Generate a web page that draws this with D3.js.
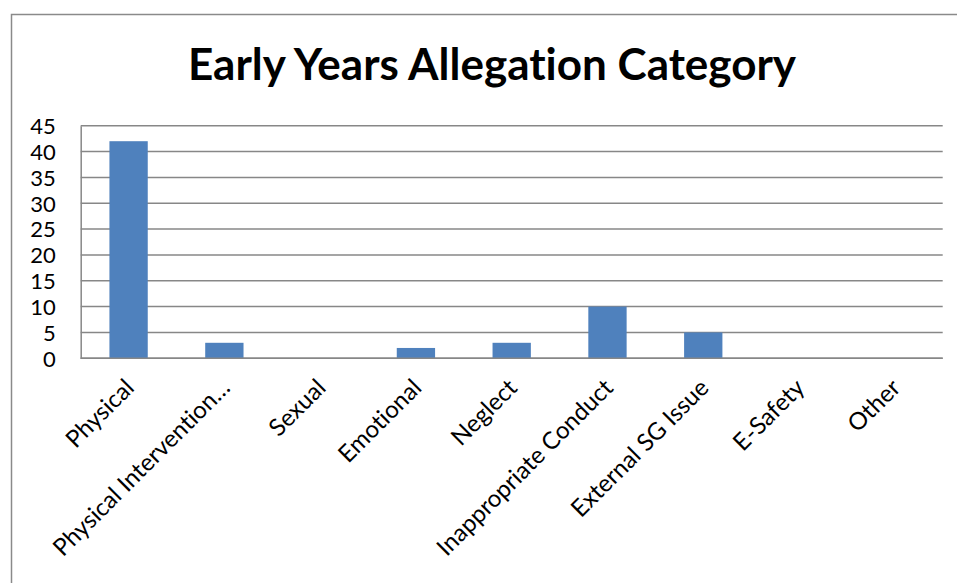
<!DOCTYPE html>
<html>
<head>
<meta charset="utf-8">
<script src="https://cdn.jsdelivr.net/npm/d3@7"></script>
<style>
  html, body { margin: 0; padding: 0; background: #ffffff; }
  svg { display: block; }
  text { font-variant-ligatures: none; font-feature-settings: "liga" 0; }
</style>
</head>
<body>
<svg id="chart" width="957" height="583"></svg>
<script>
// Allegation counts by category
const categories = [
  "Physical",
  "Physical Intervention\u2026",
  "Sexual",
  "Emotional",
  "Neglect",
  "Inappropriate Conduct",
  "External SG Issue",
  "E-Safety",
  "Other"
];
const counts = [42, 3, 0, 2, 3, 10, 5, 0, 0];
const yTicks = [0, 5, 10, 15, 20, 25, 30, 35, 40, 45];
const chartTitle = "Early Years Allegation Category";

const svg = d3.select("#chart");
const font = "Lato, 'Open Sans', sans-serif";

// chart frame
svg.append("rect")
  .attr("x", 11.5).attr("y", 14.5)
  .attr("width", 1000).attr("height", 700)
  .attr("fill", "#ffffff")
  .attr("stroke", "#8a8a8a")
  .attr("stroke-width", 1.5);

// plot area
const plot = { left: 80.7, right: 942.7, top: 125.7, bottom: 358.3 };

const x = d3.scaleBand()
  .domain(categories)
  .range([plot.left, plot.right])
  .paddingInner(0.6)
  .paddingOuter(0.3);

const y = d3.scaleLinear()
  .domain([0, 45])
  .range([plot.bottom, plot.top]);

// horizontal gridlines
svg.append("g")
  .selectAll("line")
  .data(yTicks)
  .join("line")
  .attr("x1", plot.left).attr("x2", plot.right)
  .attr("y1", d => y(d)).attr("y2", d => y(d))
  .attr("stroke", "#878787")
  .attr("stroke-width", 1.5);

// bars
svg.append("g")
  .selectAll("rect")
  .data(categories)
  .join("rect")
  .attr("x", d => x(d))
  .attr("width", x.bandwidth())
  .attr("y", (d, i) => y(counts[i]))
  .attr("height", (d, i) => y(0) - y(counts[i]))
  .attr("fill", "#4f81bd");

// y axis
const yAxis = svg.append("g")
  .attr("transform", `translate(${plot.left},0)`)
  .call(d3.axisLeft(y).tickValues(yTicks).tickSize(0).tickPadding(10));
yAxis.select(".domain").attr("stroke", "#878787").attr("stroke-width", 1.5);
yAxis.selectAll("text")
  .attr("font-family", font)
  .attr("font-size", 22)
  .attr("fill", "#000")
  .attr("dy", "0.36em")
  .attr("x", -25);

// x axis line
svg.append("line")
  .attr("x1", plot.left).attr("x2", plot.right)
  .attr("y1", plot.bottom).attr("y2", plot.bottom)
  .attr("stroke", "#878787")
  .attr("stroke-width", 1.5);

// rotated category labels
svg.append("g")
  .selectAll("text")
  .data(categories)
  .join("text")
  .attr("transform", d => `translate(${x(d) + x.bandwidth() / 2 + 7},${plot.bottom + 31}) rotate(-45)`)
  .attr("text-anchor", "end")
  .attr("font-family", font)
  .attr("font-size", 24)
  .attr("fill", "#000")
  .text(d => d);

// title
svg.append("text")
  .attr("x", 492)
  .attr("y", 80)
  .attr("text-anchor", "middle")
  .attr("font-family", font)
  .attr("font-weight", "bold")
  .attr("font-size", 44)
  .attr("fill", "#000")
  .text(chartTitle);
</script>
</body>
</html>
